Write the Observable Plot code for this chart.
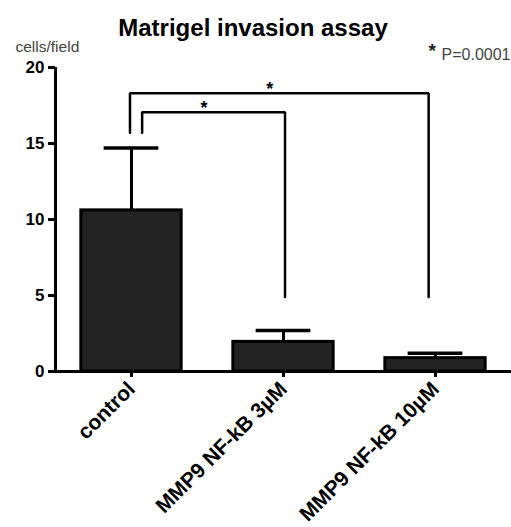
<!DOCTYPE html>
<html><head><meta charset="utf-8">
<script src="https://cdn.jsdelivr.net/npm/d3@7"></script>
<script src="https://cdn.jsdelivr.net/npm/@observablehq/plot@0.6"></script>
<style>
body{margin:0;background:#fff}
svg text{font-family:"Liberation Sans",Arial,sans-serif}
</style>
</head><body><div id="chart"></div>
<script>
// ---- data ----
const groups = ["control", "MMP9 NF-kB 3µM", "MMP9 NF-kB 10µM"];
const means = [10.6, 1.95, 0.88];
const upper = [14.7, 2.7, 1.2];
const yTicks = [0, 5, 10, 15, 20];
const bracketFrom = [0, 0];
const bracketTo = [2, 1];
const bracketTop = [18.3, 17.05];
const bracketLeftEnd = [15.7, 15.7];
const bracketRightEnd = [4.9, 4.9];
const bracketLabel = ["*", "*"];
const title = "Matrigel invasion assay";
const yLabel = "cells/field";
const pNote = "P=0.0001";

// ---- derived tables ----
const bars = groups.map((g, i) => ({i, g, mean: means[i], upper: upper[i]}));
const legNudge = [[-0.01, -0.045], [0.07, 0.01]]; // small horizontal leg offsets (style)
const bracketPts = [];
const bracketMid = [];
bracketFrom.forEach((f, k) => {
  const xl = f + legNudge[k][0], xr = bracketTo[k] + legNudge[k][1];
  bracketPts.push({k, x: xl, y: bracketLeftEnd[k]}, {k, x: xl, y: bracketTop[k]},
                  {k, x: xr, y: bracketTop[k]}, {k, x: xr, y: bracketRightEnd[k]});
  bracketMid.push({x: (xl + xr) / 2, y: bracketTop[k], t: bracketLabel[k]});
});

const chart = Plot.plot({
  width: 511, height: 527,
  marginLeft: 55, marginRight: 0, marginTop: 67, marginBottom: 156,
  x: {type: "linear", domain: [-0.5, 2.5]},
  y: {domain: [0, 20]},
  style: {fontFamily: "Liberation Sans, Arial, sans-serif", background: "white", color: "black"},
  marks: [
    Plot.ruleX(bars, {x: "i", y1: "mean", y2: "upper", stroke: "black", strokeWidth: 3}),
    Plot.ruleY(bars, {y: "upper", x1: d => d.i - 0.18, x2: d => d.i + 0.18, stroke: "black", strokeWidth: 3.5}),
    Plot.rect(bars, {x1: d => d.i - 0.33, x2: d => d.i + 0.33, y1: 0, y2: "mean", fill: "#232323", stroke: "black", strokeWidth: 3}),
    Plot.line(bracketPts, {x: "x", y: "y", z: "k", stroke: "black", strokeWidth: 2.5, strokeLinejoin: "miter"}),
    Plot.text(bracketMid, {x: "x", y: "y", text: "t", dx: -9.5, dy: -11, lineAnchor: "top", fontSize: 18, fontWeight: "bold", fill: "black"}),
    Plot.ruleY([0], {stroke: "black", strokeWidth: 3}),
    Plot.ruleX([-0.5], {stroke: "black", strokeWidth: 3}),
    Plot.axisY({ticks: yTicks, tickSize: 7, tickPadding: 4, fontSize: 17, fontWeight: "bold", strokeWidth: 3, label: null}),
    Plot.axisX({ticks: [0, 1, 2], tickFormat: i => groups[i], tickRotate: -45, tickSize: 6, tickPadding: 8, fontSize: 21, fontWeight: "bold", strokeWidth: 3, label: null}),
    Plot.text([title], {text: d => d, frameAnchor: "top-left", dx: 197.5, dy: -49, textAnchor: "middle", lineAnchor: "top", fontSize: 24, fontWeight: "bold"}),
    Plot.text([yLabel], {text: d => d, frameAnchor: "top-left", dx: -40, dy: -27, textAnchor: "start", lineAnchor: "top", fontSize: 15.5, fill: "#444"}),
    Plot.text([pNote], {text: d => d, frameAnchor: "top-right", dx: -1, dy: -19, textAnchor: "end", lineAnchor: "top", fontSize: 16, fill: "#444"}),
    Plot.text(["*"], {text: d => d, frameAnchor: "top-right", dx: -83, dy: -24, textAnchor: "start", lineAnchor: "top", fontSize: 19, fontWeight: "bold", fill: "#222"})
  ]
});
document.getElementById("chart").appendChild(chart);
</script>
</body></html>
